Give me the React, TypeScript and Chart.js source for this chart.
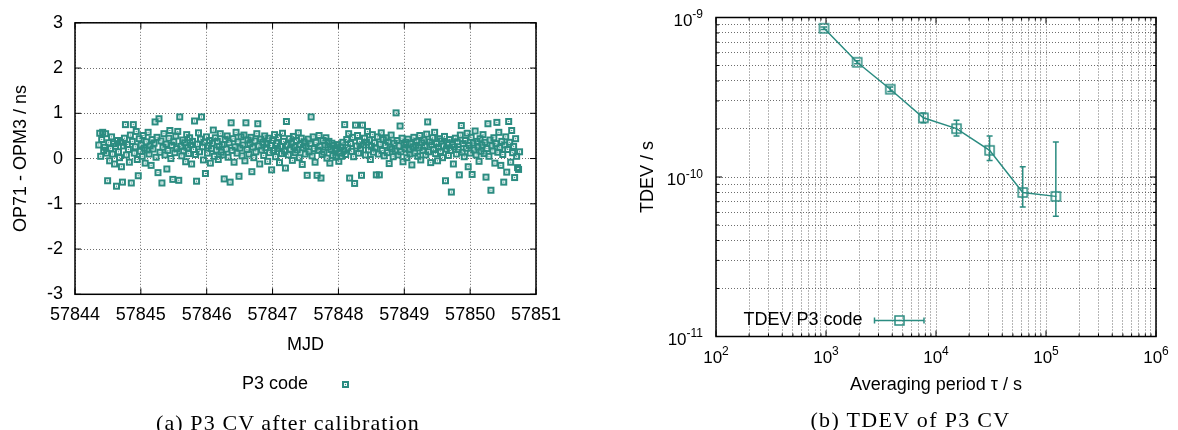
import React, { useEffect, useRef } from 'react';
import { Chart, registerables } from 'chart.js';

Chart.register(...registerables);

const TEAL = '#2b8c81';
const GRID = 'rgba(60,60,60,0.75)';
const SANS = '"Liberation Sans", Arial, Helvetica, sans-serif';
const SERIF = '"Liberation Serif", "Times New Roman", serif';

// ---------- (a) P3 CV after calibration ----------
const mjd = [
  57844.360, 57844.375, 57844.390, 57844.405, 57844.420, 57844.435, 57844.450, 57844.465, 57844.480, 57844.495,
  57844.510, 57844.525, 57844.540, 57844.555, 57844.570, 57844.585, 57844.600, 57844.615, 57844.630, 57844.645,
  57844.660, 57844.675, 57844.690, 57844.705, 57844.720, 57844.735, 57844.750, 57844.765, 57844.780, 57844.795,
  57844.810, 57844.825, 57844.840, 57844.855, 57844.870, 57844.885, 57844.900, 57844.915, 57844.930, 57844.945,
  57844.960, 57844.975, 57844.990, 57845.005, 57845.020, 57845.035, 57845.050, 57845.065, 57845.080, 57845.095,
  57845.110, 57845.125, 57845.140, 57845.155, 57845.170, 57845.185, 57845.200, 57845.215, 57845.230, 57845.245,
  57845.260, 57845.275, 57845.290, 57845.305, 57845.320, 57845.335, 57845.350, 57845.365, 57845.380, 57845.395,
  57845.410, 57845.425, 57845.440, 57845.455, 57845.470, 57845.485, 57845.500, 57845.515, 57845.530, 57845.545,
  57845.560, 57845.575, 57845.590, 57845.605, 57845.620, 57845.635, 57845.650, 57845.665, 57845.680, 57845.695,
  57845.710, 57845.725, 57845.740, 57845.755, 57845.770, 57845.785, 57845.800, 57845.815, 57845.830, 57845.845,
  57845.860, 57845.875, 57845.890, 57845.905, 57845.920, 57845.935, 57845.950, 57845.965, 57845.980, 57845.995,
  57846.010, 57846.025, 57846.040, 57846.055, 57846.070, 57846.085, 57846.100, 57846.115, 57846.130, 57846.145,
  57846.160, 57846.175, 57846.190, 57846.205, 57846.220, 57846.235, 57846.250, 57846.265, 57846.280, 57846.295,
  57846.310, 57846.325, 57846.340, 57846.355, 57846.370, 57846.385, 57846.400, 57846.415, 57846.430, 57846.445,
  57846.460, 57846.475, 57846.490, 57846.505, 57846.520, 57846.535, 57846.550, 57846.565, 57846.580, 57846.595,
  57846.610, 57846.625, 57846.640, 57846.655, 57846.670, 57846.685, 57846.700, 57846.715, 57846.730, 57846.745,
  57846.760, 57846.775, 57846.790, 57846.805, 57846.820, 57846.835, 57846.850, 57846.865, 57846.880, 57846.895,
  57846.910, 57846.925, 57846.940, 57846.955, 57846.970, 57846.985, 57847.000, 57847.015, 57847.030, 57847.045,
  57847.060, 57847.075, 57847.090, 57847.105, 57847.120, 57847.135, 57847.150, 57847.165, 57847.180, 57847.195,
  57847.210, 57847.225, 57847.240, 57847.255, 57847.270, 57847.285, 57847.300, 57847.315, 57847.330, 57847.345,
  57847.360, 57847.375, 57847.390, 57847.405, 57847.420, 57847.435, 57847.450, 57847.465, 57847.480, 57847.495,
  57847.510, 57847.525, 57847.540, 57847.555, 57847.570, 57847.585, 57847.600, 57847.615, 57847.630, 57847.645,
  57847.660, 57847.675, 57847.690, 57847.705, 57847.720, 57847.735, 57847.750, 57847.765, 57847.780, 57847.795,
  57847.810, 57847.825, 57847.840, 57847.855, 57847.870, 57847.885, 57847.900, 57847.915, 57847.930, 57847.945,
  57847.960, 57847.975, 57847.990, 57848.005, 57848.020, 57848.035, 57848.050, 57848.065, 57848.080, 57848.095,
  57848.110, 57848.125, 57848.140, 57848.155, 57848.170, 57848.185, 57848.200, 57848.215, 57848.230, 57848.245,
  57848.260, 57848.275, 57848.290, 57848.305, 57848.320, 57848.335, 57848.350, 57848.365, 57848.380, 57848.395,
  57848.410, 57848.425, 57848.440, 57848.455, 57848.470, 57848.485, 57848.500, 57848.515, 57848.530, 57848.545,
  57848.560, 57848.575, 57848.590, 57848.605, 57848.620, 57848.635, 57848.650, 57848.665, 57848.680, 57848.695,
  57848.710, 57848.725, 57848.740, 57848.755, 57848.770, 57848.785, 57848.800, 57848.815, 57848.830, 57848.845,
  57848.860, 57848.875, 57848.890, 57848.905, 57848.920, 57848.935, 57848.950, 57848.965, 57848.980, 57848.995,
  57849.010, 57849.025, 57849.040, 57849.055, 57849.070, 57849.085, 57849.100, 57849.115, 57849.130, 57849.145,
  57849.160, 57849.175, 57849.190, 57849.205, 57849.220, 57849.235, 57849.250, 57849.265, 57849.280, 57849.295,
  57849.310, 57849.325, 57849.340, 57849.355, 57849.370, 57849.385, 57849.400, 57849.415, 57849.430, 57849.445,
  57849.460, 57849.475, 57849.490, 57849.505, 57849.520, 57849.535, 57849.550, 57849.565, 57849.580, 57849.595,
  57849.610, 57849.625, 57849.640, 57849.655, 57849.670, 57849.685, 57849.700, 57849.715, 57849.730, 57849.745,
  57849.760, 57849.775, 57849.790, 57849.805, 57849.820, 57849.835, 57849.850, 57849.865, 57849.880, 57849.895,
  57849.910, 57849.925, 57849.940, 57849.955, 57849.970, 57849.985, 57850.000, 57850.015, 57850.030, 57850.045,
  57850.060, 57850.075, 57850.090, 57850.105, 57850.120, 57850.135, 57850.150, 57850.165, 57850.180, 57850.195,
  57850.210, 57850.225, 57850.240, 57850.255, 57850.270, 57850.285, 57850.300, 57850.315, 57850.330, 57850.345,
  57850.360, 57850.375, 57850.390, 57850.405, 57850.420, 57850.435, 57850.450, 57850.465, 57850.480, 57850.495,
  57850.510, 57850.525, 57850.540, 57850.555, 57850.570, 57850.585, 57850.600, 57850.615, 57850.630, 57850.645,
  57850.660, 57850.675, 57850.690, 57850.705, 57850.720, 57850.735, 57850.750,
];

const cvNs = [
  0.30, 0.56, 0.05, 0.42, 0.58, 0.18, 0.25, 0.55, 0.12, -0.49,
  0.35, -0.05, 0.22, 0.48, 0.10, 0.33, -0.12, 0.27, -0.61, 0.40,
  0.15, 0.02, 0.36, -0.18, -0.52, 0.28, 0.45, 0.75, 0.08, 0.31,
  0.20, -0.08, 0.52, -0.54, 0.38, 0.75, 0.12, 0.26, 0.60, -0.02,
  -0.38, 0.44, 0.16, 0.30, 0.05, 0.51, 0.23, -0.10, 0.37, 0.19,
  0.58, 0.10, 0.28, -0.15, 0.42, 0.21, 0.34, 0.81, 0.03, 0.47,
  -0.31, 0.88, 0.14, 0.39, -0.54, 0.25, 0.55, 0.08, 0.32, -0.23,
  0.18, 0.45, 0.62, 0.00, 0.29, -0.46, 0.37, 0.13, 0.50, 0.22,
  0.60, -0.48, 0.92, 0.27, 0.06, 0.41, 0.17, 0.35, -0.07, 0.53,
  0.24, 0.11, 0.46, 0.30, -0.12, 0.38, 0.20, 0.83, 0.09, -0.50,
  0.32, 0.57, 0.15, 0.43, 0.92, 0.26, -0.03, 0.36, -0.33, 0.48,
  0.12, 0.28, 0.40, -0.10, 0.22, 0.34, 0.63, 0.05, 0.46, 0.19,
  0.38, -0.02, 0.27, 0.55, 0.14, 0.31, 0.08, -0.45, 0.42, 0.21,
  0.50, 0.03, 0.35, -0.52, 0.79, 0.18, 0.44, -0.08, 0.26, 0.58,
  0.12, 0.37, -0.39, 0.23, 0.48, 0.06, 0.30, 0.52, -0.05, 0.79,
  0.20, 0.41, 0.10, 0.33, 0.47, -0.29, 0.25, 0.02, 0.39, 0.15,
  0.55, 0.77, 0.28, -0.12, 0.43, 0.19, 0.36, 0.07, 0.50, 0.24,
  0.32, -0.06, 0.45, 0.13, 0.29, -0.25, 0.40, 0.18, 0.53, 0.04,
  0.34, 0.22, 0.47, -0.09, 0.27, 0.11, 0.56, 0.38, 0.16, -0.21,
  0.82, 0.30, 0.08, 0.44, 0.21, 0.35, -0.04, 0.49, 0.26, 0.13,
  0.40, 0.19, 0.57, 0.02, 0.31, 0.45, -0.13, 0.24, 0.37, 0.10,
  0.28, -0.37, 0.43, 0.15, 0.33, 0.92, 0.06, 0.48, 0.22, -0.08,
  0.36, -0.37, 0.18, 0.51, 0.27, -0.43, 0.09, 0.40, 0.14, 0.30,
  0.46, 0.01, 0.25, 0.38, -0.10, 0.20, 0.34, 0.07, 0.29, 0.17,
  0.03, 0.22, 0.31, -0.06, 0.12, 0.26, 0.05, 0.36, 0.18, 0.75,
  0.09, 0.42, 0.24, 0.55, -0.43, 0.33, 0.16, 0.47, 0.04, -0.55,
  0.74, 0.28, 0.51, 0.12, 0.38, 0.22, -0.37, 0.74, 0.30, 0.45,
  0.08, 0.36, 0.60, 0.19, 0.41, -0.02, 0.27, 0.53, 0.14, 0.35,
  0.23, -0.36, 0.48, 0.10, -0.36, 0.32, 0.57, 0.18, 0.42, 0.06,
  0.29, 0.46, 0.13, 0.37, -0.11, 0.25, 0.52, 0.21, 0.04, 0.34,
  0.17, 1.01, 0.40, 0.08, 0.28, 0.72, 0.15, 0.45, -0.07, 0.31,
  0.22, 0.36, 0.02, 0.43, 0.19, 0.10, 0.33, -0.14, 0.26, 0.47,
  0.12, 0.29, 0.38, 0.05, 0.24, 0.51, -0.03, 0.35, 0.18, 0.41,
  0.27, 0.08, 0.54, 0.81, 0.15, 0.37, -0.09, 0.30, 0.46, 0.20,
  0.58, 0.11, 0.33, -0.05, 0.25, 0.44, 0.16, 0.39, 0.02, 0.28,
  0.49, -0.49, 0.21, 0.35, 0.07, 0.42, 0.18, -0.74, 0.31, -0.12,
  0.26, 0.45, 0.10, 0.37, 0.20, -0.36, 0.52, 0.73, 0.14, 0.33,
  0.04, 0.40, 0.23, 0.56, -0.18, 0.29, 0.12, 0.47, -0.35, 0.34,
  0.19, 0.61, 0.08, 0.38, 0.25, -0.06, 0.44, 0.16, 0.30, 0.53,
  0.11, 0.36, -0.41, 0.22, 0.77, 0.05, 0.41, -0.70, 0.28, 0.17,
  0.46, -0.10, 0.33, 0.80, 0.14, 0.58, 0.24, -0.15, 0.38, 0.09,
  -0.52, 0.30, 0.48, -0.30, 0.20, 0.82, 0.36, -0.08, 0.62, 0.13,
  0.27, -0.42, 0.44, 0.05, -0.20, -0.24, 0.15,
];

const mjdTicks = [57844, 57845, 57846, 57847, 57848, 57849, 57850, 57851];
const cvTicks = [-3, -2, -1, 0, 1, 2, 3];

// ---------- (b) TDEV of P3 CV ----------
const tau = [960, 1920, 3840, 7680, 15360, 30720, 61440, 122880];
const tdev = [8.56e-10, 5.24e-10, 3.55e-10, 2.35e-10, 2.01e-10, 1.47e-10, 8.0e-11, 7.56e-11];
const tdevLow = [8.40e-10, 5.12e-10, 3.44e-10, 2.19e-10, 1.81e-10, 1.27e-10, 6.49e-11, 5.68e-11];
const tdevHigh = [8.72e-10, 5.36e-10, 3.66e-10, 2.52e-10, 2.27e-10, 1.81e-10, 1.16e-10, 1.66e-10];

const tauDecades = [1e2, 1e3, 1e4, 1e5, 1e6];
const tdevDecades = [1e-11, 1e-10, 1e-9];
const minorSteps = [1, 2, 3, 4, 5, 6, 7, 8, 9];

function isDecade(v: number) {
  const l = Math.log10(v);
  return Math.abs(l - Math.round(l)) < 1e-6;
}
function expOf(v: number) {
  return String(Math.round(Math.log10(v)));
}
function logTicks(decades: number[]) {
  const out: number[] = [];
  decades.forEach((d, i) => {
    if (i === decades.length - 1) { out.push(d); return; }
    minorSteps.forEach((m) => out.push(parseFloat((d * m).toPrecision(6))));
  });
  return out;
}

function makeMarker(size: number, lw: number): HTMLCanvasElement {
  const pad = 2;
  const n = size + pad * 2;
  const c = document.createElement('canvas');
  c.width = n; c.height = n;
  const ctx = c.getContext('2d')!;
  ctx.strokeStyle = TEAL;
  ctx.lineWidth = lw;
  ctx.strokeRect(pad, pad, size, size);
  ctx.fillStyle = TEAL;
  const d = 1.2;
  ctx.fillRect(n / 2 - d / 2, n / 2 - d / 2, d, d);
  return c;
}

const framePlugin = {
  id: 'gpFrame',
  afterDraw(chart: any) {
    const { ctx, chartArea: a, scales } = chart;
    const xs = scales.x, ys = scales.y;
    ctx.save();
    ctx.strokeStyle = '#000';
    ctx.lineWidth = 1;
    ctx.beginPath();
    xs.ticks.forEach((t: any) => {
      const px = xs.getPixelForValue(t.value);
      const len = xs.type === 'logarithmic' && !isDecade(t.value) ? 3 : 6;
      ctx.moveTo(px, a.bottom); ctx.lineTo(px, a.bottom - len);
      ctx.moveTo(px, a.top); ctx.lineTo(px, a.top + len);
    });
    ys.ticks.forEach((t: any) => {
      const py = ys.getPixelForValue(t.value);
      const len = ys.type === 'logarithmic' && !isDecade(t.value) ? 3 : 6;
      ctx.moveTo(a.left, py); ctx.lineTo(a.left + len, py);
      ctx.moveTo(a.right, py); ctx.lineTo(a.right - len, py);
    });
    ctx.stroke();
    ctx.lineWidth = 1.5;
    ctx.strokeRect(a.left, a.top, a.right - a.left, a.bottom - a.top);
    ctx.restore();
  },
};

// power-of-ten tick labels with a real superscript exponent
const powerLabels = {
  id: 'powerLabels',
  afterDraw(chart: any) {
    const { ctx, chartArea: a, scales } = chart;
    const xs = scales.x, ys = scales.y;
    const big = `17px ${SANS}`, small = `12px ${SANS}`;
    ctx.save();
    ctx.fillStyle = '#000';
    ctx.textBaseline = 'alphabetic';
    ctx.textAlign = 'left';
    xs.ticks.forEach((t: any) => {
      if (!isDecade(t.value)) return;
      const e = expOf(t.value);
      const px = xs.getPixelForValue(t.value);
      ctx.font = big; const w1 = ctx.measureText('10').width;
      ctx.font = small; const w2 = ctx.measureText(e).width;
      const x0 = px - (w1 + w2) / 2;
      const base = a.bottom + 26;
      ctx.font = big; ctx.fillText('10', x0, base);
      ctx.font = small; ctx.fillText(e, x0 + w1, base - 8);
    });
    ys.ticks.forEach((t: any) => {
      if (!isDecade(t.value)) return;
      const e = expOf(t.value);
      const py = ys.getPixelForValue(t.value);
      ctx.font = big; const w1 = ctx.measureText('10').width;
      ctx.font = small; const w2 = ctx.measureText(e).width;
      const x0 = a.left - 13 - w1 - w2;
      const base = py + 8;
      ctx.font = big; ctx.fillText('10', x0, base);
      ctx.font = small; ctx.fillText(e, x0 + w1, base - 7.5);
    });
    ctx.restore();
  },
};

const scatterLegend = {
  id: 'scatterLegend',
  afterDraw(chart: any) {
    const { ctx } = chart;
    const ds = chart.data.datasets[0];
    const y = 384;
    ctx.save();
    ctx.font = `18px ${SANS}`;
    ctx.fillStyle = '#000';
    ctx.textAlign = 'right';
    ctx.textBaseline = 'middle';
    ctx.fillText(ds.label, 308, y);
    const m = ds.pointStyle as HTMLCanvasElement;
    ctx.drawImage(m, Math.round(345 - m.width / 2), Math.round(y - m.height / 2));
    ctx.restore();
  },
};

const errorBars = {
  id: 'errorBars',
  beforeDatasetsDraw(chart: any) {
    const { ctx, scales } = chart;
    const x = scales.x, y = scales.y;
    ctx.save();
    ctx.strokeStyle = TEAL;
    ctx.lineWidth = 1.5;
    ctx.beginPath();
    tau.forEach((t, i) => {
      const px = x.getPixelForValue(t);
      const lo = y.getPixelForValue(tdevLow[i]);
      const hi = y.getPixelForValue(tdevHigh[i]);
      ctx.moveTo(px, lo); ctx.lineTo(px, hi);
      ctx.moveTo(px - 3, lo); ctx.lineTo(px + 3, lo);
      ctx.moveTo(px - 3, hi); ctx.lineTo(px + 3, hi);
    });
    ctx.stroke();
    ctx.restore();
  },
};

const tdevLegend = {
  id: 'tdevLegend',
  afterDraw(chart: any) {
    const { ctx } = chart;
    const ds = chart.data.datasets[0];
    const y = 320.5;
    ctx.save();
    ctx.font = `18px ${SANS}`;
    ctx.fillStyle = '#000';
    ctx.textAlign = 'right';
    ctx.textBaseline = 'middle';
    ctx.fillText(ds.label, 272.5, y);
    ctx.strokeStyle = TEAL;
    ctx.lineWidth = 1.5;
    ctx.beginPath();
    ctx.moveTo(284.5, y); ctx.lineTo(334, y);
    ctx.moveTo(284.5, y - 3); ctx.lineTo(284.5, y + 3);
    ctx.moveTo(334, y - 3); ctx.lineTo(334, y + 3);
    ctx.stroke();
    const m = ds.pointStyle as HTMLCanvasElement;
    ctx.drawImage(m, Math.round(309.5 - m.width / 2), Math.round(y - m.height / 2));
    ctx.restore();
  },
};

const tickFont = { family: SANS, size: 18 };

export default function App() {
  const leftRef = useRef<HTMLCanvasElement>(null);
  const rightRef = useRef<HTMLCanvasElement>(null);

  useEffect(() => {
    const small = makeMarker(5, 2);
    const big = makeMarker(9, 1.5);
    const tauTicks = logTicks(tauDecades);
    const tdevTicks = logTicks(tdevDecades);

    const left = new Chart(leftRef.current!, {
      type: 'scatter',
      data: {
        datasets: [{
          label: 'P3 code',
          data: mjd.map((x, i) => ({ x, y: cvNs[i] })),
          pointStyle: small as any,
          pointRadius: 4,
          borderColor: TEAL,
          backgroundColor: 'transparent',
          showLine: false,
        }],
      },
      options: {
        responsive: false,
        animation: false,
        events: [],
        layout: { padding: { left: 0, top: 18.3, right: 54, bottom: 70.2 } },
        plugins: { legend: { display: false }, tooltip: { enabled: false } },
        scales: {
          x: {
            type: 'linear', min: 57844, max: 57851,
            afterBuildTicks: (s: any) => { s.ticks = mjdTicks.map((v) => ({ value: v })); },
            afterFit: (s: any) => { s.height = 65.5; },
            grid: { color: GRID, lineWidth: 1, drawTicks: false },
            border: { display: false, dash: [1, 2] },
            ticks: { font: tickFont, color: '#000', padding: 10, autoSkip: false, maxRotation: 0, callback: (v: any) => String(v) },
            title: { display: true, text: 'MJD', font: tickFont, color: '#000', padding: { top: 0, bottom: 4 } },
          },
          y: {
            type: 'linear', min: -3, max: 3,
            afterBuildTicks: (s: any) => { s.ticks = cvTicks.map((v) => ({ value: v })); },
            afterFit: (s: any) => { s.width = 75; },
            grid: { color: GRID, lineWidth: 1, drawTicks: false },
            border: { display: false, dash: [1, 2] },
            ticks: { font: tickFont, color: '#000', padding: 12, callback: (v: any) => String(v) },
            title: { display: true, text: 'OP71 - OPM3 / ns', font: tickFont, color: '#000', padding: { top: 10, bottom: 0 } },
          },
        },
      } as any,
      plugins: [framePlugin, scatterLegend],
    });

    const right = new Chart(rightRef.current!, {
      type: 'line',
      data: {
        datasets: [{
          label: 'TDEV P3 code',
          data: tau.map((t, i) => ({ x: t, y: tdev[i] })),
          borderColor: TEAL,
          borderWidth: 1.5,
          pointStyle: big as any,
          pointRadius: 6,
          backgroundColor: 'transparent',
          tension: 0,
        }],
      },
      options: {
        responsive: false,
        animation: false,
        events: [],
        layout: { padding: { left: 0, top: 17.5, right: 22, bottom: 30.2 } },
        plugins: { legend: { display: false }, tooltip: { enabled: false } },
        scales: {
          x: {
            type: 'logarithmic', min: 1e2, max: 1e6,
            afterBuildTicks: (s: any) => { s.ticks = tauTicks.map((v) => ({ value: v })); },
            afterFit: (s: any) => { s.height = 63.3; },
            grid: { color: GRID, lineWidth: 1, drawTicks: false },
            border: { display: false, dash: [1, 2] },
            ticks: { display: false, autoSkip: false },
            title: { display: true, text: 'Averaging period τ / s', font: tickFont, color: '#000', padding: { top: 0, bottom: 4 } },
          },
          y: {
            type: 'logarithmic', min: 1e-11, max: 1e-9,
            afterBuildTicks: (s: any) => { s.ticks = tdevTicks.map((v) => ({ value: v })); },
            afterFit: (s: any) => { s.width = 126; },
            grid: { color: GRID, lineWidth: 1, drawTicks: false },
            border: { display: false, dash: [1, 2] },
            ticks: { display: false, autoSkip: false },
            title: { display: true, text: 'TDEV / s', font: tickFont, color: '#000', padding: { top: 47, bottom: 0 } },
          },
        },
      } as any,
      plugins: [framePlugin, powerLabels, errorBars, tdevLegend],
    });

    return () => { left.destroy(); right.destroy(); };
  }, []);

  return (
    <div style={{ position: 'absolute', left: 0, top: 0, width: 1178, height: 430, background: '#fff', overflow: 'hidden' }}>
      <canvas ref={leftRef} width={590} height={430} style={{ position: 'absolute', left: 0, top: 0 }} />
      <canvas ref={rightRef} width={588} height={430} style={{ position: 'absolute', left: 590, top: 0 }} />
      <div style={{ position: 'absolute', left: 0, width: 576, top: 411, lineHeight: '24px', textAlign: 'center', fontFamily: SERIF, fontSize: 22, letterSpacing: '0.05em', color: '#000' }}>
        (a) P3 CV after calibration
      </div>
      <div style={{ position: 'absolute', left: 710, width: 401, top: 408, lineHeight: '24px', textAlign: 'center', fontFamily: SERIF, fontSize: 22, letterSpacing: '0.06em', color: '#000' }}>
        (b) TDEV of P3 CV
      </div>
    </div>
  );
}
